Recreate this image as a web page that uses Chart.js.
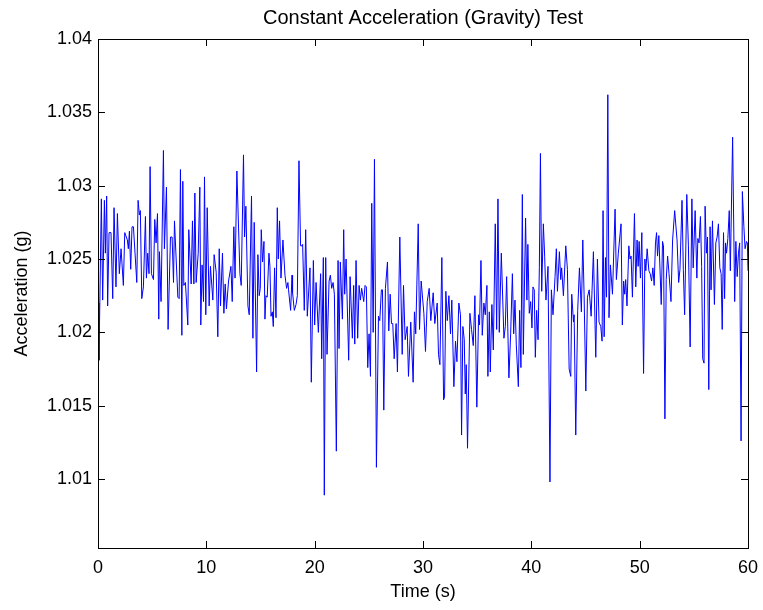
<!DOCTYPE html>
<html>
<head>
<meta charset="utf-8">
<title>Constant Acceleration (Gravity) Test</title>
<script src="https://cdn.jsdelivr.net/npm/chart.js@4.4.1/dist/chart.umd.min.js"></script>
<style>
  body { margin: 0; background: #fff; }
  #wrap { width: 763px; height: 610px; position: relative; }
</style>
</head>
<body>
<div id="wrap"><canvas id="gravityChart"></canvas></div>
<script>
// Données (temps en s, accélération en g)
const timeS = [
  0.00, 0.09, 0.31, 0.43, 0.59, 0.68, 0.80, 0.89, 1.02, 1.20, 1.36, 1.48, 1.66, 1.79, 1.97, 2.13,
  2.34, 2.47, 2.71, 2.80, 2.90, 3.02, 3.14, 3.27, 3.58, 3.70, 3.82, 3.91, 4.04, 4.19, 4.38, 4.47,
  4.59, 4.71, 4.81, 4.93, 5.12, 5.24, 5.36, 5.49, 5.61, 5.67, 5.82, 6.04, 6.13,
  6.32, 6.47, 6.69, 6.84, 6.97, 7.06, 7.37, 7.49, 7.61, 7.74, 7.83, 7.92, 8.07, 8.29, 8.38, 8.60,
  8.72, 8.85, 8.94, 9.06, 9.25, 9.40, 9.49, 9.61, 9.74, 9.83, 9.95, 10.08, 10.26, 10.38, 10.60, 10.72,
  10.91, 11.06, 11.19, 11.31, 11.49, 11.62, 11.74, 11.86, 12.05, 12.27, 12.39, 12.54, 12.65,
  12.82, 13.10, 13.22, 13.43, 13.53, 13.65, 13.84, 13.96, 14.17, 14.30, 14.42, 14.64, 14.76, 14.88,
  14.98, 15.07, 15.19, 15.32, 15.41, 15.50, 15.62, 15.78, 15.87, 15.97, 16.09, 16.18, 16.30, 16.43,
  16.55, 16.64, 16.76, 16.89, 17.07, 17.26, 17.41, 17.53, 17.59, 17.78, 17.91, 17.96, 18.12, 18.28,
  18.40, 18.55, 18.70, 18.83, 18.89, 19.04,
  19.17, 19.32, 19.57, 19.69, 19.88, 20.00, 20.13, 20.34, 20.55, 20.65, 20.80, 20.89, 21.02, 21.14,
  21.33, 21.45, 21.57, 21.70, 21.82, 22.00, 22.16, 22.25, 22.37, 22.56, 22.68, 22.77, 22.90, 23.14,
  23.27, 23.48, 23.60, 23.70, 23.82, 23.97, 24.10, 24.22, 24.34, 24.53, 24.65, 24.77, 24.90, 25.02,
  25.15, 25.27, 25.40, 25.52,
  25.70, 25.89, 26.01, 26.16, 26.26, 26.38, 26.53, 26.72, 26.84, 26.97, 27.09, 27.21, 27.34, 27.52,
  27.64, 27.86, 28.08, 28.20, 28.35, 28.54, 28.66, 28.87, 29.09, 29.21, 29.33, 29.56, 29.68, 29.83,
  30.08, 30.23, 30.39, 30.57, 30.72, 30.94, 31.09, 31.31, 31.43, 31.56, 31.74, 31.90, 31.99,
  32.11, 32.24, 32.39, 32.54, 32.66, 32.85, 33.00, 33.13, 33.31, 33.46, 33.56, 33.68, 33.81, 33.90,
  33.99, 34.11, 34.33, 34.48, 34.64, 34.79, 34.97, 35.13, 35.22, 35.35, 35.47, 35.62, 35.75, 35.90,
  35.99, 36.12, 36.21, 36.36, 36.49, 36.67, 36.80, 36.92, 37.04, 37.23, 37.47, 37.60, 37.72, 37.93,
  38.09, 38.25, 38.37, 38.49,
  38.61, 38.80, 38.92, 39.04, 39.17, 39.26, 39.47, 39.59, 39.68, 39.81, 39.94, 40.06, 40.15, 40.27,
  40.37, 40.49, 40.62, 40.74, 40.84, 40.96, 41.11, 41.23, 41.35, 41.54, 41.72, 41.85, 42.00, 42.19,
  42.31, 42.41, 42.59, 42.71, 42.80, 42.96, 43.18, 43.33, 43.49, 43.64, 43.73, 43.89, 43.95, 44.10,
  44.28, 44.44, 44.62, 44.75, 44.87, 45.03,
  45.18, 45.34, 45.52, 45.73, 45.95, 46.10, 46.25, 46.41, 46.53, 46.62, 46.72, 46.84, 46.94, 47.06,
  47.17, 47.30, 47.49, 47.73, 47.85, 48.03, 48.28, 48.40, 48.52, 48.62, 48.71, 48.83, 49.00, 49.11,
  49.21, 49.33, 49.52, 49.64, 49.76, 49.86, 49.95, 50.07, 50.20, 50.36, 50.48, 50.57, 50.69, 50.85,
  50.97, 51.10, 51.22, 51.34, 51.46,
  51.56, 51.65, 51.77, 51.99, 52.11, 52.20, 52.33, 52.45, 52.58, 52.71, 52.89, 53.04, 53.23, 53.45,
  53.60, 53.72, 53.91, 54.03, 54.15, 54.35, 54.50, 54.66, 54.82, 54.94, 55.12, 55.28, 55.37, 55.48,
  55.61, 55.72, 55.82, 55.94, 56.04, 56.16, 56.26, 56.38, 56.50, 56.59, 56.72, 56.90, 57.03, 57.15,
  57.27, 57.40, 57.52, 57.62, 57.74, 57.84, 57.93,
  58.02, 58.14, 58.27, 58.37, 58.58, 58.77, 58.88, 59.00, 59.12, 59.23, 59.36, 59.48, 59.62, 59.73,
  59.86, 59.94, 60.00
];

const accelG = [
  1.0220, 1.0181, 1.0291, 1.0222, 1.0290, 1.0254, 1.0293, 1.0218, 1.0268, 1.0268, 1.0223, 1.0285, 1.0231, 1.0281, 1.0240, 1.0257,
  1.0232, 1.0268, 1.0263, 1.0257, 1.0269, 1.0243, 1.0272, 1.0272, 1.0234, 1.0290, 1.0280, 1.0283, 1.0223, 1.0231, 1.0279, 1.0237,
  1.0254, 1.0240, 1.0313, 1.0240, 1.0236, 1.0277, 1.0261, 1.0281, 1.0209, 1.0255, 1.0221, 1.0324, 1.0257,
  1.0299, 1.0202, 1.0265, 1.0265, 1.0234, 1.0276, 1.0224, 1.0223, 1.0311, 1.0198, 1.0303, 1.0232, 1.0234, 1.0205, 1.0270, 1.0233,
  1.0276, 1.0233, 1.0295, 1.0234, 1.0254, 1.0299, 1.0205, 1.0246, 1.0221, 1.0306, 1.0212, 1.0285, 1.0218, 1.0245, 1.0222, 1.0253,
  1.0241, 1.0197, 1.0257, 1.0218, 1.0254, 1.0213, 1.0233, 1.0216, 1.0235, 1.0245, 1.0221, 1.0272, 1.0237,
  1.0310, 1.0240, 1.0232, 1.0321, 1.0265, 1.0286, 1.0218, 1.0212, 1.0293, 1.0196, 1.0275, 1.0173, 1.0253, 1.0225,
  1.0230, 1.0270, 1.0248, 1.0262, 1.0209, 1.0225, 1.0224, 1.0254, 1.0245, 1.0211, 1.0214, 1.0204, 1.0244, 1.0210,
  1.0285, 1.0250, 1.0276, 1.0237, 1.0263, 1.0239, 1.0230, 1.0234, 1.0229, 1.0215, 1.0239, 1.0227, 1.0215, 1.0219,
  1.0225, 1.0317, 1.0259, 1.0259, 1.0260, 1.0215,
  1.0270, 1.0211, 1.0244, 1.0166, 1.0249, 1.0205, 1.0234, 1.0200, 1.0240, 1.0182, 1.0251, 1.0089, 1.0251, 1.0185,
  1.0235, 1.0239, 1.0230, 1.0234, 1.0226, 1.0119, 1.0249, 1.0189, 1.0248, 1.0209, 1.0270, 1.0226, 1.0250, 1.0181,
  1.0238, 1.0196, 1.0232, 1.0192, 1.0249, 1.0196, 1.0232, 1.0222, 1.0230, 1.0221, 1.0232, 1.0231, 1.0176, 1.0199,
  1.0170, 1.0288, 1.0200, 1.0318,
  1.0108, 1.0211, 1.0208, 1.0229, 1.0229, 1.0147, 1.0230, 1.0248, 1.0201, 1.0226, 1.0206, 1.0206, 1.0182, 1.0206,
  1.0173, 1.0265, 1.0185, 1.0232, 1.0195, 1.0204, 1.0170, 1.0207, 1.0166, 1.0214, 1.0199, 1.0274, 1.0202, 1.0235,
  1.0213, 1.0187, 1.0221, 1.0230, 1.0208, 1.0227, 1.0206, 1.0220, 1.0185, 1.0178, 1.0251, 1.0154, 1.0156,
  1.0228, 1.0208, 1.0225, 1.0199, 1.0222, 1.0163, 1.0194, 1.0180, 1.0220, 1.0212, 1.0130, 1.0204, 1.0195, 1.0158,
  1.0178, 1.0121, 1.0213, 1.0202, 1.0191, 1.0225, 1.0149, 1.0212, 1.0205, 1.0249, 1.0198, 1.0220, 1.0212, 1.0232,
  1.0170, 1.0214, 1.0173, 1.0219, 1.0188, 1.0274, 1.0202, 1.0291, 1.0200, 1.0254, 1.0196, 1.0204, 1.0238, 1.0169,
  1.0199, 1.0240, 1.0199, 1.0222,
  1.0192, 1.0163, 1.0215, 1.0176, 1.0294, 1.0185, 1.0278, 1.0222, 1.0260, 1.0213, 1.0221, 1.0203, 1.0231, 1.0229,
  1.0183, 1.0215, 1.0195, 1.0244, 1.0322, 1.0228, 1.0274, 1.0252, 1.0222, 1.0245, 1.0098, 1.0229, 1.0212, 1.0238,
  1.0257, 1.0228, 1.0255, 1.0236, 1.0244, 1.0225, 1.0259, 1.0243, 1.0175, 1.0170, 1.0226, 1.0207, 1.0212, 1.0130,
  1.0215, 1.0244, 1.0214, 1.0263, 1.0226, 1.0160,
  1.0224, 1.0229, 1.0211, 1.0255, 1.0183, 1.0250, 1.0207, 1.0204, 1.0194, 1.0283, 1.0197, 1.0251, 1.0224, 1.0362,
  1.0210, 1.0246, 1.0226, 1.0284, 1.0236, 1.0254, 1.0274, 1.0205, 1.0235, 1.0226, 1.0236, 1.0218, 1.0259, 1.0250,
  1.0252, 1.0224, 1.0281, 1.0231, 1.0263, 1.0245, 1.0262, 1.0237, 1.0268, 1.0172, 1.0250, 1.0242, 1.0257, 1.0242,
  1.0240, 1.0235, 1.0244, 1.0232, 1.0261,
  1.0268, 1.0252, 1.0266, 1.0219, 1.0262, 1.0259, 1.0141, 1.0236, 1.0252, 1.0240, 1.0221, 1.0263, 1.0283, 1.0263,
  1.0234, 1.0243, 1.0290, 1.0243, 1.0212, 1.0294, 1.0259, 1.0190, 1.0291, 1.0244, 1.0283, 1.0237, 1.0264, 1.0261,
  1.0279, 1.0245, 1.0182, 1.0179, 1.0286, 1.0254, 1.0265, 1.0161, 1.0272, 1.0229, 1.0276, 1.0219, 1.0261, 1.0265,
  1.0274, 1.0244, 1.0240, 1.0202, 1.0268, 1.0223, 1.0261,
  1.0254, 1.0264, 1.0283, 1.0242, 1.0333, 1.0221, 1.0262, 1.0238, 1.0254, 1.0261, 1.0126, 1.0296, 1.0272, 1.0257,
  1.0262, 1.0261, 1.0242
];

const xTickValues = [0, 10, 20, 30, 40, 50, 60];
const yTickValues = [1.01, 1.015, 1.02, 1.025, 1.03, 1.035, 1.04];

const FONT = "'Liberation Sans', Arial, Helvetica, sans-serif";
const TICK_LEN = 7;

// Cadre + graduations vers l'intérieur (style MATLAB)
const cadreMatlab = {
    id: 'cadreMatlab',
    afterDatasetsDraw(chart) {
        const { ctx, chartArea: a, scales: { x, y } } = chart;
        ctx.save();
        ctx.strokeStyle = '#000';
        ctx.lineWidth = 1;
        ctx.beginPath();
        x.ticks.forEach(t => {
            const px = Math.round(x.getPixelForValue(t.value)) + 0.5;
            ctx.moveTo(px, a.bottom);
            ctx.lineTo(px, a.bottom - TICK_LEN);
            ctx.moveTo(px, a.top);
            ctx.lineTo(px, a.top + TICK_LEN);
        });
        y.ticks.forEach(t => {
            const py = Math.round(y.getPixelForValue(t.value)) + 0.5;
            ctx.moveTo(a.left, py);
            ctx.lineTo(a.left + TICK_LEN, py);
            ctx.moveTo(a.right, py);
            ctx.lineTo(a.right - TICK_LEN, py);
        });
        ctx.stroke();
        ctx.strokeRect(Math.round(a.left) + 0.5, Math.round(a.top) + 0.5,
            Math.round(a.right - a.left), Math.round(a.bottom - a.top));
        ctx.restore();
    }
};

const ctx = document.getElementById('gravityChart');
new Chart(ctx.getContext('2d'), {
    type: 'line',
    data: {
        datasets: [{
            data: timeS.map((t, i) => ({ x: t, y: accelG[i] })),
            borderColor: '#0000ff',
            borderWidth: 1,
            pointRadius: 0,
            tension: 0,
            fill: false
        }]
    },
    options: {
        responsive: true,
        maintainAspectRatio: false,
        animation: false,
        layout: { padding: { left: 0, right: 15, top: 0, bottom: 0 } },
        plugins: {
            legend: { display: false },
            tooltip: { enabled: false },
            title: {
                display: true,
                fullSize: false,
                text: 'Constant Acceleration (Gravity) Test',
                color: '#000',
                font: { family: FONT, size: 20, weight: 'normal' },
                padding: { top: 6, bottom: 9 }
            }
        },
        scales: {
            x: {
                type: 'linear',
                min: 0,
                max: 60,
                afterBuildTicks: s => { s.ticks = xTickValues.map(v => ({ value: v })); },
                afterFit: s => { s.height = 62; s.paddingLeft = 0; s.paddingRight = 0; },
                grid: { display: false, drawTicks: false },
                border: { display: false },
                ticks: {
                    color: '#000',
                    padding: 9,
                    maxRotation: 0,
                    font: { family: FONT, size: 18 }
                },
                title: {
                    display: true,
                    text: 'Time (s)',
                    color: '#000',
                    font: { family: FONT, size: 18 },
                    padding: { top: 0, bottom: 7 }
                }
            },
            y: {
                min: 1.0053,
                max: 1.04,
                afterBuildTicks: s => { s.ticks = yTickValues.map(v => ({ value: v })); },
                afterFit: s => { s.width = 98; },
                grid: { display: false, drawTicks: false },
                border: { display: false },
                ticks: {
                    color: '#000',
                    padding: 6,
                    font: { family: FONT, size: 18 },
                    callback: v => String(parseFloat(v.toFixed(3)))
                },
                title: {
                    display: true,
                    text: 'Acceleration (g)',
                    color: '#000',
                    font: { family: FONT, size: 18 },
                    padding: { top: 11, bottom: 0 }
                }
            }
        }
    },
    plugins: [cadreMatlab]
});
</script>
</body>
</html>
